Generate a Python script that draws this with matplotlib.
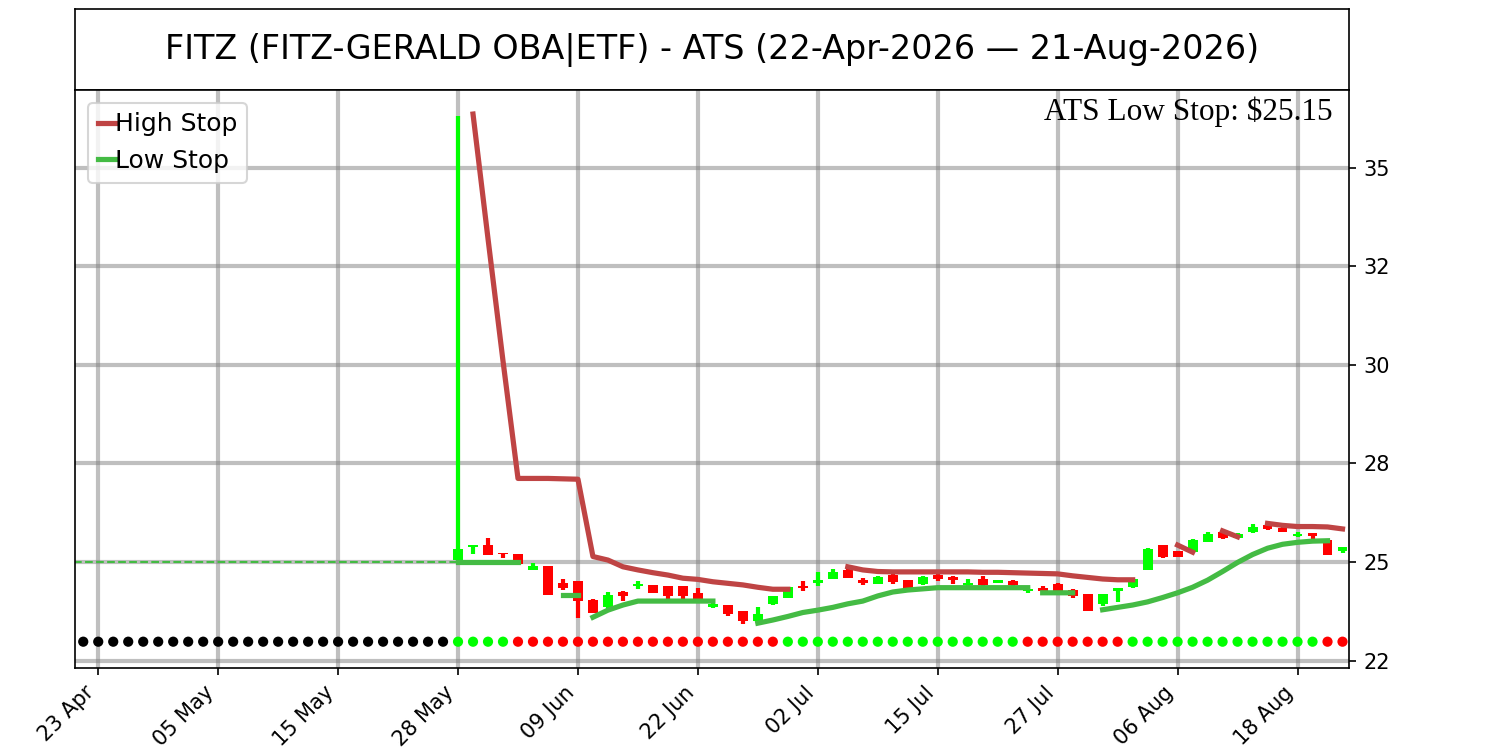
import numpy as np
import pandas as pd
import matplotlib
matplotlib.use("Agg")
import matplotlib.pyplot as plt
from matplotlib.ticker import MultipleLocator, FormatStrFormatter

# trading days 22-Apr-2026 .. 21-Aug-2026 (US holidays removed)
dates = pd.bdate_range("2026-04-22", "2026-08-21", freq="C",
                       holidays=["2026-05-25", "2026-06-19", "2026-07-03"])
n_empty = 25  # no prices before 28 May

opens = [25.04, 25.37, 25.43, 25.24, 25.21, 24.79, 24.89, 24.48, 24.51, 24.03,
         23.87, 24.25, 24.39, 24.43, 24.38, 24.38, 24.22, 23.86, 23.91, 23.75,
         23.50, 23.94, 24.10, 24.40, 24.47, 24.58, 24.79, 24.55, 24.45, 24.66,
         24.55, 24.44, 24.66, 24.63, 24.41, 24.57, 24.46, 24.53, 24.27, 24.35,
         24.45, 24.30, 24.19, 23.93, 24.26, 24.36, 24.81, 25.43, 25.27, 25.26,
         25.51, 25.77, 25.62, 25.75, 25.94, 25.86, 25.66, 25.73, 25.56, 25.27]
highs = [36.31, 25.43, 25.60, 25.24, 25.21, 24.97, 24.89, 24.56, 24.52, 24.06,
         24.23, 24.26, 24.53, 24.43, 24.38, 24.39, 24.34, 23.97, 23.92, 23.76,
         23.87, 24.14, 24.37, 24.53, 24.74, 24.83, 24.85, 24.60, 24.64, 24.70,
         24.55, 24.64, 24.74, 24.64, 24.56, 24.64, 24.55, 24.54, 24.36, 24.38,
         24.46, 24.31, 24.19, 24.19, 24.35, 24.58, 25.35, 25.43, 25.28, 25.58,
         25.75, 25.79, 25.73, 25.96, 25.98, 25.88, 25.76, 25.74, 25.57, 25.39]
lows = [25.00, 25.21, 25.19, 25.09, 24.93, 24.79, 24.16, 24.29, 23.59, 23.70,
        23.76, 24.00, 24.32, 24.22, 24.04, 23.98, 24.04, 23.84, 23.62, 23.44,
        23.49, 23.90, 24.10, 24.26, 24.40, 24.57, 24.59, 24.42, 24.44, 24.44,
        24.34, 24.43, 24.51, 24.45, 24.34, 24.37, 24.46, 24.37, 24.22, 24.23,
        24.17, 24.08, 23.75, 23.88, 23.98, 24.35, 24.80, 25.11, 25.13, 25.24,
        25.50, 25.59, 25.60, 25.74, 25.80, 25.75, 25.63, 25.57, 25.17, 25.22]
closes = [25.34, 25.42, 25.19, 25.20, 24.95, 24.91, 24.17, 24.34, 24.02, 23.70,
          24.17, 24.15, 24.44, 24.22, 24.14, 24.15, 24.05, 23.93, 23.68, 23.50,
          23.68, 24.13, 24.36, 24.33, 24.54, 24.76, 24.60, 24.47, 24.63, 24.49,
          24.35, 24.62, 24.58, 24.54, 24.48, 24.41, 24.55, 24.41, 24.31, 24.27,
          24.24, 24.13, 23.75, 24.19, 24.34, 24.57, 25.34, 25.12, 25.14, 25.57,
          25.71, 25.60, 25.72, 25.88, 25.85, 25.76, 25.72, 25.66, 25.17, 25.38]

# stop levels from 28 May on (nan = not drawn)
nan = np.nan
high_stop = [nan, 36.36, 33.20, 30.10, 27.12, 27.12, 27.12, 27.11, 27.10, 25.14,
             25.05, 24.88, 24.80, 24.73, 24.67, 24.59, 24.56, 24.50, 24.46, 24.42,
             24.36, 24.31, 24.31, nan, nan, nan, 24.88, 24.80, 24.76, 24.75,
             24.75, 24.75, 24.75, 24.75, 24.75, 24.74, 24.74, 24.73, 24.72, 24.71,
             24.70, 24.65, 24.61, 24.57, 24.55, 24.55, nan, nan, 25.43, 25.25,
             nan, 25.79, 25.64, nan, 25.98, 25.93, 25.90, 25.90, 25.89, 25.84]
low_stop = [25.00, 25.00, 25.00, 25.00, 25.00, nan, nan, 24.16, 24.16, 23.60,
            23.78, 23.91, 24.01, 24.01, 24.01, 24.01, 24.01, 24.01, nan, nan,
            23.45, 23.53, 23.62, 23.72, 23.78, 23.85, 23.94, 24.01, 24.14, 24.24,
            24.29, 24.32, 24.35, 24.35, 24.35, 24.35, 24.35, 24.35, 24.35, 24.22,
            24.22, 24.22, nan, 23.79, 23.85, 23.91, 23.99, 24.10, 24.22, 24.36,
            24.54, 24.76, 24.99, 25.19, 25.35, 25.45, 25.50, 25.53, 25.54, nan]
# a new low-stop segment starts here (not joined to the previous point)
low_breaks = [9, 39]

# trend dots: k = none, g = up, r = down
dot_flags = "k" * 25 + "g" * 4 + "r" * 18 + "g" * 16 + "r" * 7 + "g" * 13 + "r" * 2
pre_level = 25.0
ats_low_stop = 25.15
dot_level = 22.98

dot_colors = {"k": "black", "g": "#00ff00", "r": "#ff0000"}
hs_color = "#bf4444"
ls_color = "#44bb44"

x = np.arange(len(dates))
xp = x[n_empty:]
o = np.array(opens)
c = np.array(closes)
up = c >= o
cols = np.where(up, "#00ff00", "#ff0000")

fig = plt.figure(figsize=(10, 5), dpi=150)
tax = fig.add_axes([0.05, 0.88, 0.8495, 0.1076])
tax.set_xticks([])
tax.set_yticks([])
tax.text(0.5, 0.5, "FITZ (FITZ-GERALD OBA|ETF) - ATS (22-Apr-2026 \u2014 21-Aug-2026)",
         ha="center", va="center", fontsize=16, transform=tax.transAxes)

ax = fig.add_axes([0.05, 0.1097, 0.8495, 0.7703])
ax.grid(True, color="gray", alpha=0.5, linewidth=2)
ax.set_axisbelow(True)

ax.plot([-0.6, n_empty], [pre_level, pre_level], color=ls_color, lw=1, ls="--")

ax.vlines(xp, lows, highs, colors=cols, linewidth=2, zorder=2)
ax.bar(xp, np.maximum(np.abs(c - o), 0.03), bottom=np.minimum(o, c), width=0.66,
       color=cols, zorder=2)

ax.plot(xp, high_stop, color=hs_color, lw=2.5, label="High Stop", zorder=3)
cuts = [0] + low_breaks + [len(low_stop)]
for k in range(len(cuts) - 1):
    a, b = cuts[k], cuts[k + 1]
    ax.plot(xp[a:b], low_stop[a:b], color=ls_color, lw=2.5,
            label="Low Stop" if k == 0 else None, zorder=3)

ax.scatter(x, [dot_level] * len(x), s=24, c=[dot_colors[f] for f in dot_flags],
           zorder=4, linewidths=0)

ax.set_xlim(-0.55, 84.45)
ax.set_ylim(22.32, 36.97)
ax.yaxis.tick_right()
ax.yaxis.set_major_locator(MultipleLocator(2.5))
ax.yaxis.set_major_formatter(FormatStrFormatter("%.0f"))
ax.tick_params(axis="both", labelsize=10)

tick_idx = x[1::8]
ax.set_xticks(tick_idx)
ax.set_xticklabels([dates[i].strftime("%d %b") for i in tick_idx], rotation=45, ha="right")

ax.legend(loc="upper left", fontsize=12, handlelength=0.7, handletextpad=0.0)
ax.text(0.987, 0.988, f"ATS Low Stop: ${ats_low_stop:.2f}", transform=ax.transAxes,
        ha="right", va="top", fontsize=15, family=["Liberation Serif", "DejaVu Serif"])

fig.savefig("out.png")
